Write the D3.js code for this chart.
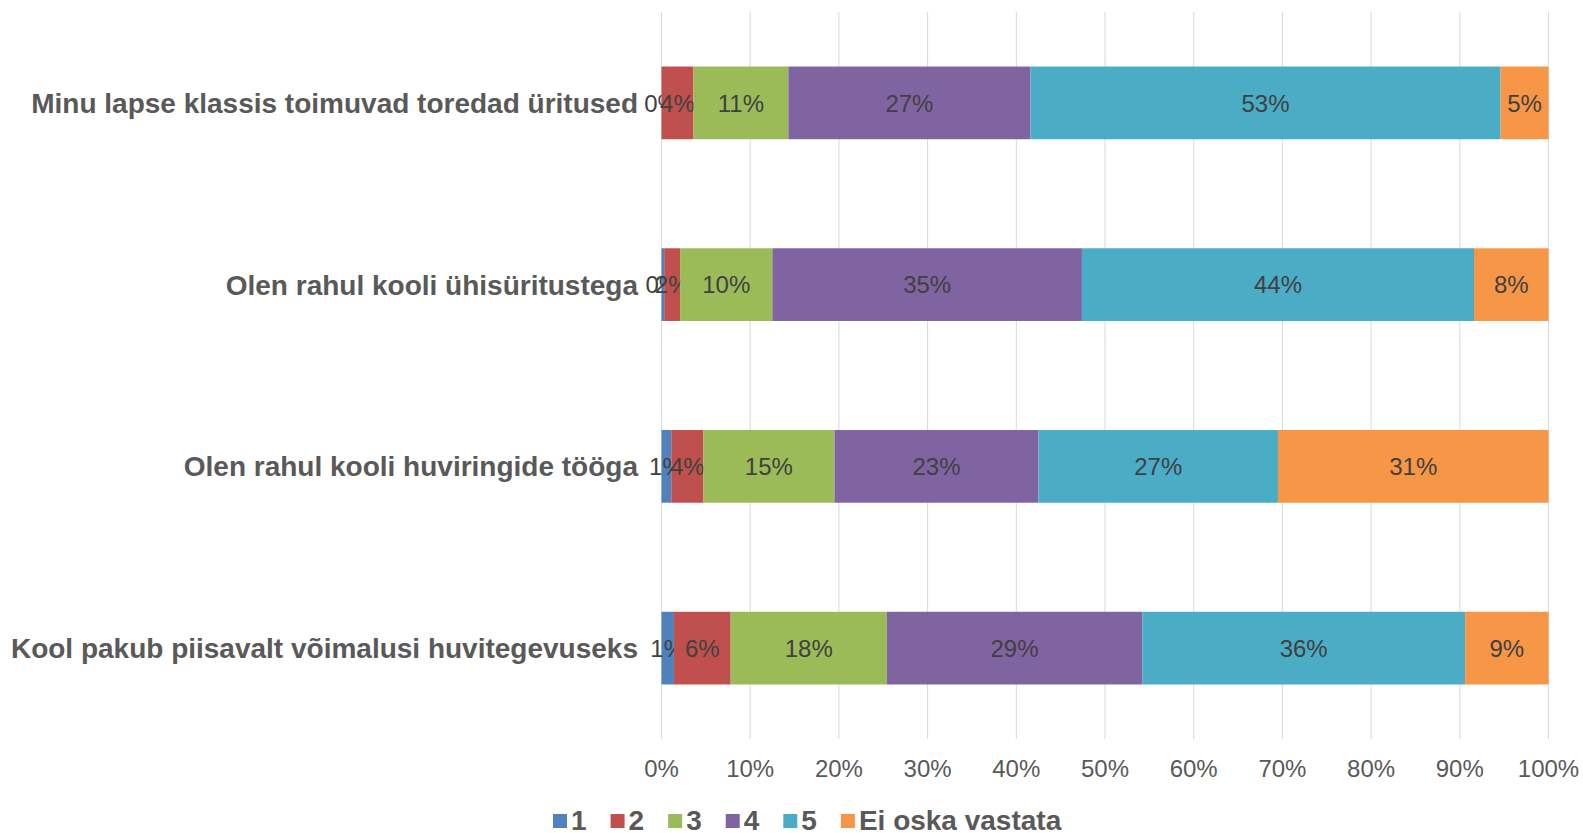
<!DOCTYPE html>
<html>
<head>
<meta charset="utf-8">
<script src="https://cdn.jsdelivr.net/npm/d3@7"></script>
<style>
body { margin:0; background:#fff; }
text { font-family: "Liberation Sans", Arial, sans-serif; }
</style>
</head>
<body>
<div id="chart"></div>
<script>
// questions, top to bottom
var categories = [
    "Minu lapse klassis toimuvad toredad üritused",
    "Olen rahul kooli ühisüritustega",
    "Olen rahul kooli huviringide tööga",
    "Kool pakub piisavalt võimalusi huvitegevuseks"
];
var seriesNames = ["1", "2", "3", "4", "5", "Ei oska vastata"];
// percent of answers per category, one array per answer
var s1 = [0.0, 0.3, 1.1, 1.4];
var s2 = [3.6, 1.8, 3.6, 6.4];
var s3 = [10.7, 10.4, 14.8, 17.6];
var s4 = [27.3, 34.9, 23.0, 28.8];
var s5 = [53.0, 44.2, 27.0, 36.4];
var sEi = [5.4, 8.4, 30.5, 9.4];
var tickLabels = ["0%","10%","20%","30%","40%","50%","60%","70%","80%","90%","100%"];
var colors = ["#4F81BD", "#C0504D", "#9BBB59", "#8064A2", "#4BACC6", "#F79646"];

var allSeries = [s1, s2, s3, s4, s5, sEi];
var rows = categories.map(function(c, i){
    var r = {cat: c};
    seriesNames.forEach(function(n, j){ r[n] = allSeries[j][i]; });
    return r;
});

var W = 1583, H = 833;
var svg = d3.select("#chart").append("svg")
    .attr("width", W).attr("height", H);

var x = d3.scaleLinear().domain([0, 1]).range([661.5, 1548.5]);
var y = d3.scaleBand().domain(categories).range([12, 739])
    .paddingInner(0.6).paddingOuter(0.3);

// gridlines
svg.append("g").selectAll("line")
    .data(d3.range(0, 11))
    .enter().append("line")
    .attr("x1", function(d){ return x(d/10); })
    .attr("x2", function(d){ return x(d/10); })
    .attr("y1", 12).attr("y2", 739)
    .attr("stroke", "#d9d9d9").attr("stroke-width", 1);

var stack = d3.stack().keys(seriesNames).offset(d3.stackOffsetExpand);
var layers = stack(rows);

var g = svg.append("g").selectAll("g")
    .data(layers)
    .enter().append("g")
    .attr("fill", function(d, i){ return colors[i]; });

g.selectAll("rect")
    .data(function(d){ return d; })
    .enter().append("rect")
    .attr("x", function(d){ return x(d[0]); })
    .attr("width", function(d){ return x(d[1]) - x(d[0]); })
    .attr("y", function(d){ return y(d.data.cat); })
    .attr("height", y.bandwidth());

// data labels
g.each(function(layer){
    d3.select(this).selectAll("text.lbl")
        .data(layer)
        .enter().append("text")
        .attr("class", "lbl")
        .attr("x", function(d){ return (x(d[0]) + x(d[1])) / 2; })
        .attr("y", function(d){ return y(d.data.cat) + y.bandwidth()/2; })
        .attr("dy", "0.36em")
        .attr("text-anchor", "middle")
        .attr("fill", "#404040")
        .style("font-size", "24px")
        .text(function(d){ return Math.round(d.data[layer.key]) + "%"; });
});

// category labels
svg.append("g").selectAll("text")
    .data(categories)
    .enter().append("text")
    .attr("x", 638)
    .attr("y", function(d){ return y(d) + y.bandwidth()/2; })
    .attr("dy", "0.36em")
    .attr("text-anchor", "end")
    .attr("fill", "#595959")
    .style("font-size", "28px")
    .style("font-weight", "bold")
    .text(function(d){ return d; });

// x tick labels
svg.append("g").selectAll("text")
    .data(tickLabels)
    .enter().append("text")
    .attr("x", function(d, i){ return x(i/10); })
    .attr("y", 768)
    .attr("dy", "0.36em")
    .attr("text-anchor", "middle")
    .attr("fill", "#595959")
    .style("font-size", "24px")
    .text(function(d){ return d; });

// legend
var legend = svg.append("g");
var lx = 553;
seriesNames.forEach(function(n, i){
    legend.append("rect")
        .attr("x", lx).attr("y", 814)
        .attr("width", 14).attr("height", 14)
        .attr("fill", colors[i]);
    var t = legend.append("text")
        .attr("x", lx + 18).attr("y", 820)
        .attr("dy", "0.36em")
        .attr("fill", "#595959")
        .style("font-size", "28px")
        .style("font-weight", "bold")
        .text(n);
    lx = lx + 18 + t.node().getComputedTextLength() + 24;
});
</script>
</body>
</html>
